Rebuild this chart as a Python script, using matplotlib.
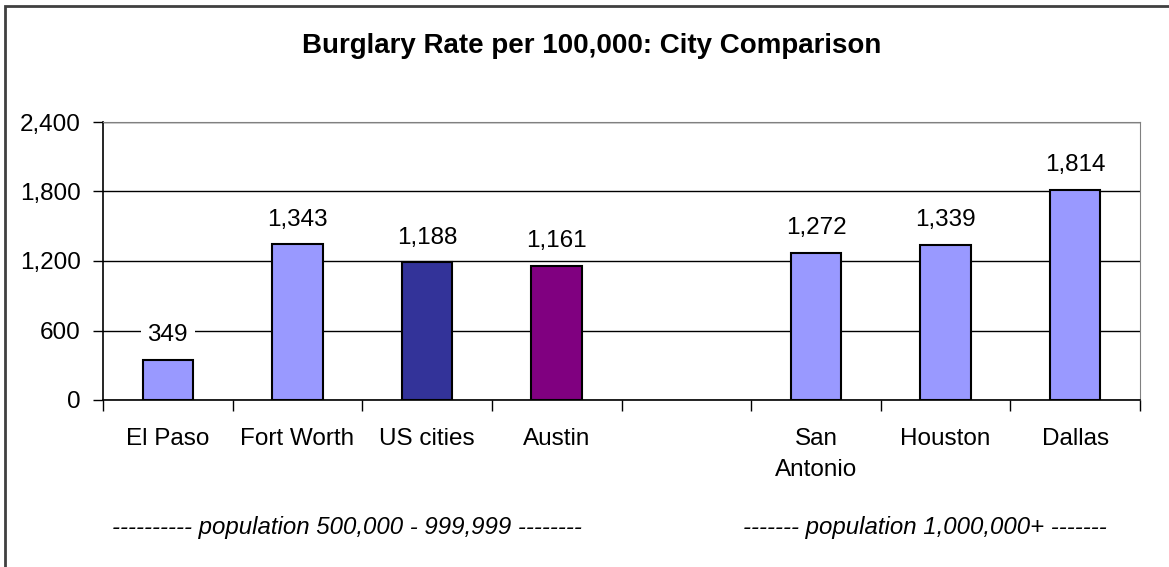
import matplotlib
matplotlib.use('Agg')
import matplotlib.pyplot as plt
import matplotlib.patches as patches
import numpy as np

# burglary rate per 100,000 -- empty slot separates the two population groups
cities = ['El Paso', 'Fort Worth', 'US cities', 'Austin', '', 'San\nAntonio', 'Houston', 'Dallas']
rates = [349, 1343, 1188, 1161, np.nan, 1272, 1339, 1814]
colors = ['#9999FF', '#9999FF', '#333399', '#800080', '#9999FF', '#9999FF', '#9999FF', '#9999FF']
yticks = [0, 600, 1200, 1800, 2400]
group_notes = ['---------- population 500,000 - 999,999 --------',
               '------- population 1,000,000+ -------']

plt.rcParams['font.family'] = ['Liberation Sans', 'DejaVu Sans']
fs = 17.5

fig = plt.figure(figsize=(11.69, 5.67), dpi=100)
ax = fig.add_axes([103/1169, 1-400/567, (1140-103)/1169, (400-122)/567])

x = np.arange(len(cities))
ax.bar(x, rates, width=0.39, color=colors, edgecolor='black', linewidth=1.5, zorder=3)

for xi, v in zip(x, rates):
    if np.isnan(v):
        continue
    ax.annotate(f'{v:,.0f}', (xi, v), xytext=(0, 13.5), textcoords='offset points',
                ha='center', va='baseline', fontsize=fs, zorder=4,
                bbox=dict(facecolor='white', edgecolor='none', pad=5))

ax.set_xlim(-0.5, len(cities) - 0.5)
ax.set_ylim(0, 2400)
ax.set_yticks(yticks)
ax.set_yticklabels([f'{t:,}' for t in yticks], fontsize=fs)
ax.yaxis.grid(True, color='black', linewidth=1)
ax.set_axisbelow(True)

ax.set_xticks(x)
ax.set_xticklabels(cities, fontsize=fs, linespacing=1.55)
ax.set_xticks(np.arange(-0.5, len(cities)), minor=True)
ax.tick_params(axis='x', which='major', length=0, pad=20)
ax.tick_params(axis='x', which='minor', length=8, width=1, direction='out')
ax.tick_params(axis='y', length=7, width=1, pad=9)

ax.spines['top'].set_color('#808080')
ax.spines['right'].set_color('#808080')
ax.spines['left'].set_linewidth(1.2)
ax.spines['bottom'].set_linewidth(1.2)

fig.text(592/1169, 1-53/567, 'Burglary Rate per 100,000: City Comparison',
         ha='center', va='baseline', fontsize=20, fontweight='bold')
fig.text(347/1169, 1-534/567, group_notes[0], ha='center', va='baseline',
         fontsize=17.3, style='italic')
fig.text(925/1169, 1-534/567, group_notes[1], ha='center', va='baseline',
         fontsize=17.3, style='italic')

# outer chart border (cut off at right and bottom)
fig.patches.append(patches.Rectangle((5/1169, -0.1), 1.2, 1.1 - 6/567,
                                     transform=fig.transFigure, fill=False,
                                     edgecolor='#404040', linewidth=2))

plt.savefig('out.png', dpi=100)
